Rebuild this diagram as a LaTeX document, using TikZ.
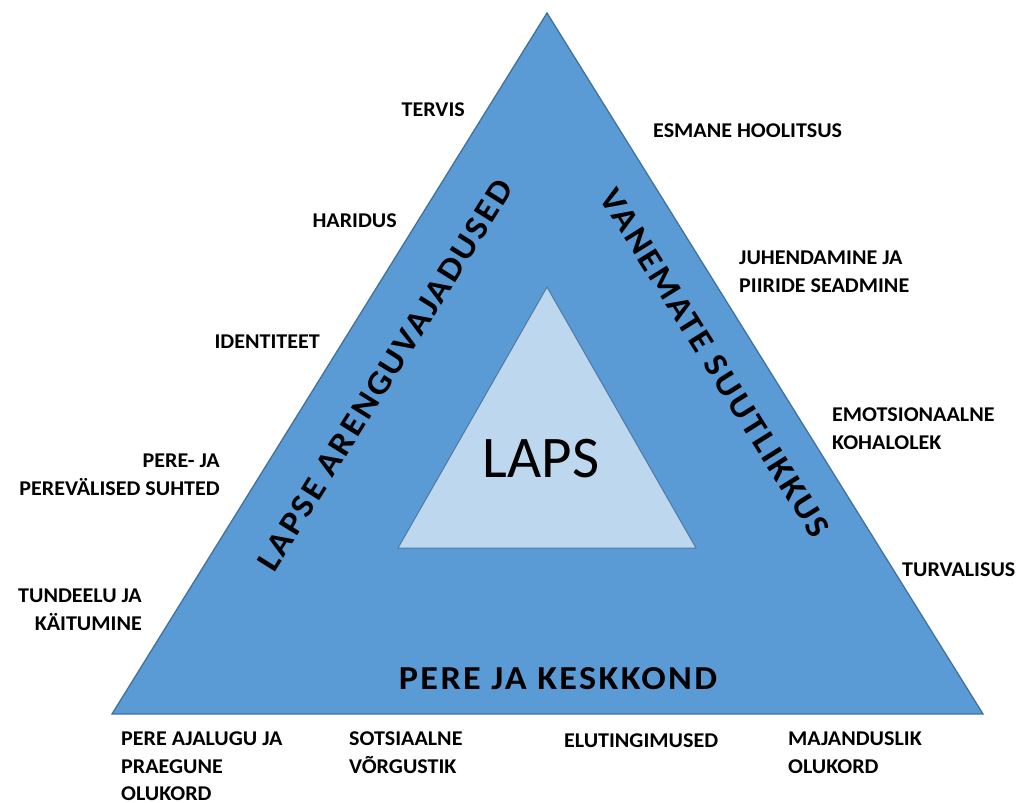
\documentclass[tikz,border=0pt]{standalone}
\usepackage{fontspec}
\setmainfont{Carlito}
\newfontfamily\lblfont[FakeStretch=1.05]{Carlito}
\newfontfamily\bigfont[FakeStretch=1.08,LetterSpace=7]{Carlito}
\definecolor{outerfill}{HTML}{5B9BD5}
\definecolor{outerline}{HTML}{41719C}
\definecolor{innerfill}{HTML}{BDD7EE}
\definecolor{innerline}{HTML}{4E79A3}
\tikzset{
  lbl/.style={inner sep=0pt, font=\lblfont\bfseries\fontsize{21}{27.5}\selectfont},
  lblL/.style={lbl, anchor=north east, align=right},
  lblR/.style={lbl, anchor=north west, align=left},
  bigtxt/.style={inner sep=0pt, font=\bigfont\bfseries\fontsize{33.5}{40}\selectfont},
  outertri/.style={fill=outerfill, draw=outerline, line width=1.3pt, line join=miter},
  innertri/.style={fill=innerfill, draw=innerline, line width=1pt, line join=miter}
}
\begin{document}
\begin{tikzpicture}[x=1pt,y=-1pt]
\useasboundingbox (0,0) rectangle (1023,803);
% outer triangle
\coordinate (OA) at (547,13);
\coordinate (OL) at (112,714);
\coordinate (OR) at (983,714);
\draw[outertri] (OA) -- (OL) -- (OR) -- cycle;
% inner triangle
\coordinate (IA) at (547,287);
\coordinate (IL) at (398,548);
\coordinate (IR) at (696,548);
\draw[innertri] (IA) -- (IL) -- (IR) -- cycle;
% central label
\node[inner sep=0pt, font=\fontsize{59}{60}\selectfont] (laps) at (541,459) {LAPS};
% side titles
\node[bigtxt, rotate=58] (arengu) at (385,375) {LAPSE ARENGUVAJADUSED};
\node[bigtxt, rotate=-58] (vanem) at (715,363) {VANEMATE SUUTLIKKUS};
\node[bigtxt] (pere) at (558,679) {PERE JA KESKKOND};
% left labels
\node[lblL] (tervis) at (465,103) {TERVIS};
\node[lblL] (haridus) at (397,214) {HARIDUS};
\node[lblL] (ident) at (320,335) {IDENTITEET};
\node[lblL] (suhted) at (220,454) {PERE- JA\\PEREVÄLISED SUHTED};
\node[lblL] (tunde) at (142,589) {TUNDEELU JA\\KÄITUMINE};
% right labels
\node[lblR] (esmane) at (653,124) {ESMANE HOOLITSUS};
\node[lblR] (juhend) at (739,251) {JUHENDAMINE JA\\PIIRIDE SEADMINE};
\node[lblR] (emots) at (832,408) {EMOTSIONAALNE\\KOHALOLEK};
\node[lblR] (turva) at (902,563) {TURVALISUS};
% bottom labels
\node[lblR] (ajalugu) at (121,732) {PERE AJALUGU JA\\PRAEGUNE\\OLUKORD};
\node[lblR] (sots) at (349,732) {SOTSIAALNE\\VÕRGUSTIK};
\node[lblR] (elu) at (564,734) {ELUTINGIMUSED};
\node[lblR] (majand) at (788,732) {MAJANDUSLIK\\OLUKORD};
\end{tikzpicture}
\end{document}
